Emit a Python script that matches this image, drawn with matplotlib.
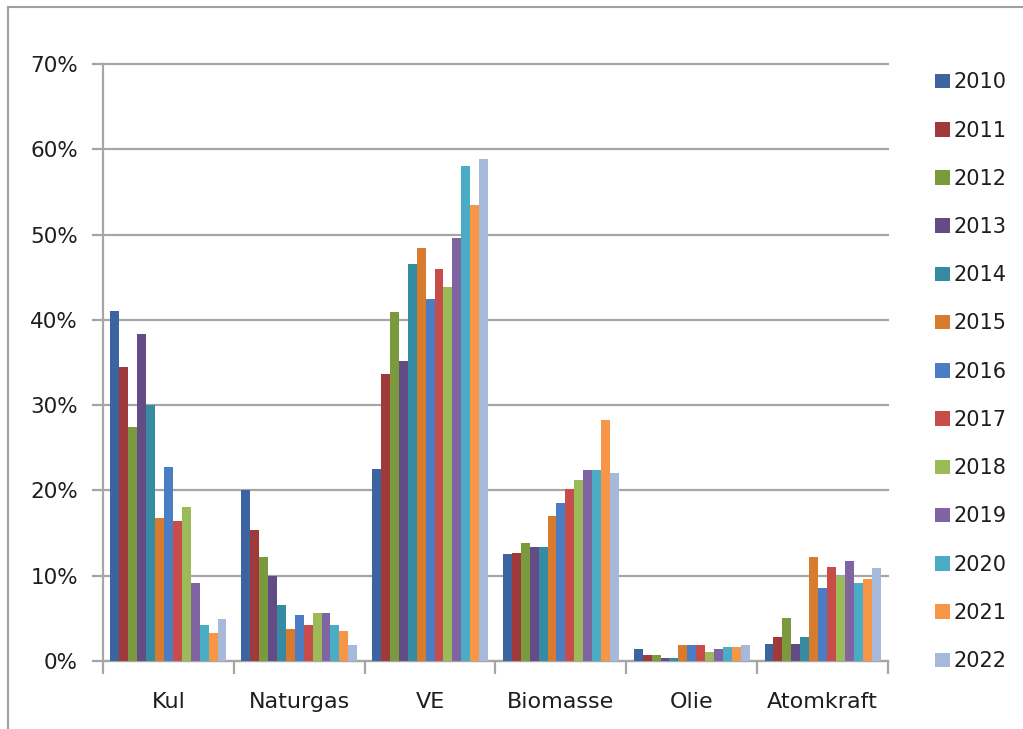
import numpy as np
import matplotlib.pyplot as plt
from matplotlib.lines import Line2D
from matplotlib.patches import Patch
from matplotlib.ticker import PercentFormatter

# Andel af elproduktion pr. kilde, 2010-2022 (procent)
categories = ['Kul', 'Naturgas', 'VE', 'Biomasse', 'Olie', 'Atomkraft']
years = ['2010', '2011', '2012', '2013', '2014', '2015', '2016',
         '2017', '2018', '2019', '2020', '2021', '2022']

kul = [41.0, 34.5, 27.4, 38.4, 30.0, 16.8, 22.7, 16.4, 18.0, 9.1, 4.2, 3.3, 4.9]
naturgas = [20.0, 15.4, 12.2, 10.0, 6.6, 3.7, 5.4, 4.2, 5.6, 5.6, 4.2, 3.5, 1.9]
ve = [22.5, 33.6, 40.9, 35.2, 46.5, 48.4, 42.5, 46.0, 43.9, 49.6, 58.0, 53.5, 58.9]
biomasse = [12.5, 12.7, 13.8, 13.4, 13.4, 17.0, 18.5, 20.2, 21.2, 22.4, 22.4, 28.2, 22.1]
olie = [1.4, 0.7, 0.7, 0.4, 0.4, 1.9, 1.9, 1.9, 1.1, 1.4, 1.6, 1.6, 1.9]
atomkraft = [2.0, 2.8, 5.1, 2.0, 2.8, 12.2, 8.6, 11.0, 9.9, 11.7, 9.1, 9.6, 10.9]

colors = ['#3C64A0', '#A0393A', '#7A9A3D', '#634B86', '#348BA2', '#D97B2E',
          '#4A7DC3', '#C84C49', '#9BBB59', '#8064A2', '#4BACC6', '#F79646',
          '#A7B9DB']

data = np.array([kul, naturgas, ve, biomasse, olie, atomkraft]) / 100.0

fig = plt.figure(figsize=(10.23, 7.29), dpi=100)
W, H = 1023, 729
ax = fig.add_axes([103 / W, 1 - 661 / H, (888 - 103) / W, (661 - 64) / H])

x = np.arange(len(categories))
n = len(years)
bw = 0.887 / n
for i, year in enumerate(years):
    ax.bar(x + (i - (n - 1) / 2) * bw, data[:, i], width=bw,
           color=colors[i], label=year, zorder=3)

grid_c = '#A6A6A6'
txt_c = '#1E1E1E'
ax.set_xlim(-0.5, len(categories) - 0.5)
ax.set_ylim(0, 0.70)
ax.set_yticks(np.arange(0, 0.71, 0.1))
ax.yaxis.set_major_formatter(PercentFormatter(1.0, decimals=0))
ax.yaxis.grid(True, color=grid_c, linewidth=1.6, zorder=0)
for gl in ax.get_ygridlines():
    gl.set_clip_on(False)
ax.set_axisbelow(True)

ax.set_xticks(x)
ax.set_xticklabels(categories)
ax.set_xticks(np.arange(-0.5, len(categories)), minor=True)
ax.tick_params(axis='x', which='major', length=0, pad=22, labelsize=16,
               colors=txt_c)
ax.tick_params(axis='x', which='minor', length=9, width=1.6, color=grid_c)
ax.tick_params(axis='y', length=8, width=1.6, color=grid_c, pad=10,
               labelsize=15.5, labelcolor=txt_c)

for side in ['top', 'right']:
    ax.spines[side].set_visible(False)
for side in ['left', 'bottom']:
    ax.spines[side].set_color(grid_c)
    ax.spines[side].set_linewidth(1.6)

# legend at the right side
handles = [Patch(facecolor=c, edgecolor='none') for c in colors]
leg = fig.legend(handles, years, loc='upper left',
                 bbox_to_anchor=(927 / W, 1 - 64 / H), frameon=False,
                 fontsize=15, handlelength=0.7, handleheight=0.7,
                 handletextpad=0.15, labelspacing=1.355, borderaxespad=0)
for t in leg.get_texts():
    t.set_color(txt_c)

# outer chart frame
fig.add_artist(Line2D([8 / W, 8 / W], [0, 1 - 7 / H], color='#A0A0A0',
                      linewidth=1.5, transform=fig.transFigure))
fig.add_artist(Line2D([8 / W, 1], [1 - 7 / H, 1 - 7 / H], color='#A0A0A0',
                      linewidth=1.5, transform=fig.transFigure))

fig.savefig('out.png', dpi=100)
